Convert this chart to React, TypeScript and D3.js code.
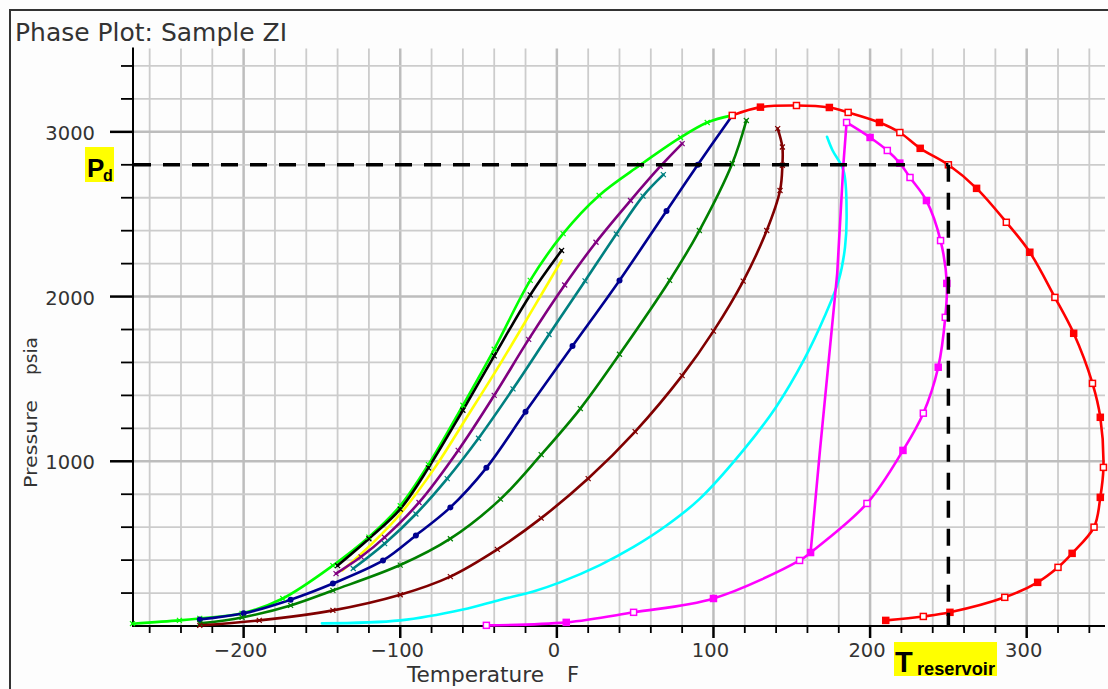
import React from 'react';
import * as d3 from 'd3';

const W = 1108;
const H = 689;

// Dew-point branch (temperature °F, pressure psia)
const dewT = [112, 130, 153, 174, 186, 206, 219, 232, 250, 268, 287, 302, 318, 330, 342, 347, 349, 347, 343, 329, 320, 307, 286, 251, 234, 210];
const dewP = [3100, 3150, 3160, 3148, 3118, 3057, 2996, 2900, 2800, 2657, 2451, 2269, 1995, 1777, 1473, 1267, 963, 781, 600, 441, 356, 265, 174, 83, 58, 34];

// Bubble-point branch
const bubbleT = [-271, -241, -228, -201, -175, -143, -120, -100, -82, -60, -40, -17, 4, 27, 53, 79, 96, 112];
const bubbleP = [14, 34, 46, 77, 167, 367, 540, 730, 980, 1340, 1680, 2098, 2382, 2614, 2797, 2966, 3057, 3100];

// Quality lines inside the envelope
const blackT = [-140, -120, -100, -82, -60, -40, -17, 3];
const blackP = [367, 530, 710, 960, 1310, 1640, 2010, 2280];

const yellowT = [-137, -118, -100, -78, -56, -35, -15, 3];
const yellowP = [337, 500, 680, 960, 1290, 1610, 1930, 2220];

const purpleT = [-141, -125, -110, -88, -63, -40, -18, 5, 25, 47, 66, 80];
const purpleP = [318, 420, 538, 750, 1066, 1400, 1740, 2070, 2330, 2583, 2790, 2929];

const tealT = [-130, -110, -90, -70, -50, -28, -5, 18, 38, 55, 68];
const tealP = [349, 500, 680, 895, 1140, 1440, 1770, 2095, 2380, 2610, 2740];

const navyT = [-228, -200, -170, -143, -111, -90, -68, -45, -20, 10, 40, 70, 90, 112];
const navyP = [40, 77, 160, 258, 398, 550, 720, 960, 1300, 1700, 2098, 2520, 2800, 3100];

const greenT = [-228, -201, -170, -143, -100, -68, -36, -10, 15, 40, 72, 91, 112, 121];
const greenP = [16, 52, 125, 216, 370, 530, 770, 1040, 1320, 1650, 2098, 2401, 2808, 3069];

const maroonT = [-228, -190, -143, -100, -68, -38, -10, 20, 50, 80, 100, 119, 134, 142.5, 144, 144, 141];
const maroonP = [4, 34, 95, 190, 300, 465, 655, 895, 1180, 1520, 1790, 2094, 2401, 2644, 2797, 2908, 3020];

const cyanT = [-150, -100, -60, -36, -15, 2, 27.5, 49, 70, 91, 119, 140, 158, 171, 180, 184, 185, 183, 176, 172.5];
const cyanP = [16, 34, 100, 160, 210, 265, 370, 480, 610, 770, 1066, 1330, 1620, 1880, 2100, 2300, 2504, 2766, 2888, 2970];

const magentaT = [-45, 6, 49, 100, 155, 162, 198, 221, 234, 243.5, 248, 249, 245, 236, 225.5, 219, 211, 200, 185];
const magentaP = [4, 22, 83, 167, 398, 446, 744, 1066, 1292, 1571, 1874, 2080, 2340, 2583, 2723, 2810, 2887, 2966, 3057];

const magentaLegT = [185, 183, 179, 168, 162];
const magentaLegP = [3057, 2808, 2140, 1066, 446];

// Axis labels
const xTickLabels = [-200, -100, 0, 100, 200, 300];
const yTickLabels = [1000, 2000, 3000];

// Reference conditions
const dewPressure = 2800;
const reservoirTemp = 250;

type Marker = 'square' | 'dot' | 'cross' | 'none';
interface Series {
  name: string;
  color: string;
  t: number[];
  p: number[];
  marker: Marker;
  smooth: boolean;
}

const series: Series[] = [
  { name: 'bubble', color: '#00ff00', t: bubbleT, p: bubbleP, marker: 'cross', smooth: true },
  { name: 'q-black', color: '#000000', t: blackT, p: blackP, marker: 'cross', smooth: true },
  { name: 'q-yellow', color: '#ffff00', t: yellowT, p: yellowP, marker: 'none', smooth: true },
  { name: 'q-purple', color: '#800080', t: purpleT, p: purpleP, marker: 'cross', smooth: true },
  { name: 'q-teal', color: '#008080', t: tealT, p: tealP, marker: 'cross', smooth: true },
  { name: 'q-navy', color: '#000090', t: navyT, p: navyP, marker: 'dot', smooth: true },
  { name: 'q-green', color: '#008000', t: greenT, p: greenP, marker: 'cross', smooth: true },
  { name: 'q-maroon', color: '#800000', t: maroonT, p: maroonP, marker: 'cross', smooth: true },
  { name: 'q-cyan', color: '#00ffff', t: cyanT, p: cyanP, marker: 'none', smooth: true },
  { name: 'q-magenta', color: '#ff00ff', t: magentaT, p: magentaP, marker: 'square', smooth: true },
  { name: 'q-magenta-leg', color: '#ff00ff', t: magentaLegT, p: magentaLegP, marker: 'none', smooth: false },
  { name: 'dew', color: '#ff0000', t: dewT, p: dewP, marker: 'square', smooth: true },
];

const labelFont = '"DejaVu Sans", "Liberation Sans", sans-serif';
const calloutFont = '"Liberation Sans", Arial, sans-serif';

export default function App() {
  const x = d3.scaleLinear().domain([-270, 350]).range([134, 1105]);
  const y = d3.scaleLinear().domain([0, 3500]).range([626, 49.5]);

  const [x0, x1] = x.range();
  const [y0, y1] = y.range();

  const xMinor = d3.range(-260, 351, 20);
  const yMinor = d3.range(200, 3401, 200);

  const pathFor = (s: Series) => {
    const pts = s.t.map((t, i) => [t, s.p[i]] as [number, number]);
    const gen = d3
      .line<[number, number]>()
      .x((d) => x(d[0]))
      .y((d) => y(d[1]))
      .curve(s.smooth ? d3.curveCatmullRom.alpha(0.5) : d3.curveLinear);
    return gen(pts) || '';
  };

  const markersFor = (s: Series) => {
    if (s.marker === 'none') return null;
    return s.t.map((t, i) => {
      const cx = x(t);
      const cy = y(s.p[i]);
      if (s.marker === 'square') {
        const hollow = i % 2 === 0;
        return (
          <rect
            key={i}
            x={cx - 3}
            y={cy - 3}
            width={6}
            height={6}
            fill={hollow ? '#fff' : s.color}
            stroke={s.color}
            strokeWidth={1.5}
          />
        );
      }
      if (s.marker === 'dot') {
        return <circle key={i} cx={cx} cy={cy} r={3} fill={s.color} />;
      }
      return (
        <path
          key={i}
          d={`M${cx - 2.5},${cy - 2.5}L${cx + 2.5},${cy + 2.5}M${cx - 2.5},${cy + 2.5}L${cx + 2.5},${cy - 2.5}`}
          stroke={s.color}
          strokeWidth={1.2}
        />
      );
    });
  };

  const fmt = (v: number) => (v < 0 ? `\u2212${Math.abs(v)}` : `${v}`);

  return (
    <svg
      width={W}
      height={H}
      viewBox={`0 0 ${W} ${H}`}
      style={{ position: 'absolute', left: 0, top: 0, display: 'block', background: '#fff' }}
    >
      <rect x={0} y={0} width={W} height={H} fill="#fdfdfd" />

      {/* panel frame */}
      <path d={`M10,${H}L10,10L${W},10`} fill="none" stroke="#333" strokeWidth={2} />

      {/* title */}
      <text x={15} y={41} fontFamily={labelFont} fontSize={25} fill="#333" textLength={272} lengthAdjust="spacingAndGlyphs">
        Phase Plot: Sample ZI
      </text>

      {/* grid */}
      <g>
        {xMinor.map((v) => (
          <line
            key={`gx${v}`}
            x1={x(v)}
            x2={x(v)}
            y1={y1 - 1}
            y2={y0}
            stroke={v % 100 === 0 ? '#bdbdbd' : '#cccccc'}
            strokeWidth={v % 100 === 0 ? 2.5 : 1.8}
          />
        ))}
        {yMinor.map((v) => (
          <line
            key={`gy${v}`}
            x1={x0}
            x2={x1}
            y1={y(v)}
            y2={y(v)}
            stroke={v % 1000 === 0 ? '#bdbdbd' : '#cccccc'}
            strokeWidth={v % 1000 === 0 ? 2.5 : 1.8}
          />
        ))}
      </g>

      {/* axes */}
      <line x1={x0 - 1} x2={x0 - 1} y1={y1 - 2} y2={y0 + 1} stroke="#000" strokeWidth={2} />
      <line x1={x0 - 1} x2={x1} y1={y0} y2={y0} stroke="#000" strokeWidth={2} />

      {yMinor.map((v) => (
        <line
          key={`ty${v}`}
          x1={v % 1000 === 0 ? x0 - 24 : x0 - 13}
          x2={x0 - 1}
          y1={y(v)}
          y2={y(v)}
          stroke="#000"
          strokeWidth={v % 1000 === 0 ? 2.5 : 1.8}
        />
      ))}
      {xMinor.map((v) => (
        <line
          key={`tx${v}`}
          x1={x(v)}
          x2={x(v)}
          y1={y0}
          y2={v % 100 === 0 ? y0 + 12 : y0 + 7}
          stroke="#000"
          strokeWidth={v % 100 === 0 ? 2.5 : 1.8}
        />
      ))}

      {yTickLabels.map((v) => (
        <text key={`ly${v}`} x={95} y={y(v) + 8} textAnchor="end" fontFamily={labelFont} fontSize={19.5} fill="#333">
          {fmt(v)}
        </text>
      ))}
      {xTickLabels.map((v) => (
        <text key={`lx${v}`} x={x(v) - 3} y={657} textAnchor="middle" fontFamily={labelFont} fontSize={19.5} fill="#333">
          {fmt(v)}
        </text>
      ))}

      {/* axis titles */}
      <text x={407} y={682} fontFamily={labelFont} fontSize={21} fill="#333" textLength={137} lengthAdjust="spacingAndGlyphs">
        Temperature
      </text>
      <text x={567} y={682} fontFamily={labelFont} fontSize={21} fill="#333">
        F
      </text>
      <g transform="translate(37,488) rotate(-90)">
        <text x={0} y={0} fontFamily={labelFont} fontSize={18} fill="#333" textLength={88} lengthAdjust="spacingAndGlyphs">
          Pressure
        </text>
        <text x={113} y={0} fontFamily={labelFont} fontSize={18} fill="#333" textLength={38} lengthAdjust="spacingAndGlyphs">
          psia
        </text>
      </g>

      {/* envelope and quality lines */}
      <g fill="none" strokeLinejoin="round" strokeLinecap="round">
        {series.map((s) => (
          <path key={s.name} d={pathFor(s)} stroke={s.color} strokeWidth={2.6} />
        ))}
      </g>
      <g>
        {series.map((s) => (
          <g key={`m-${s.name}`}>{markersFor(s)}</g>
        ))}
      </g>

      {/* dew pressure and reservoir temperature guides */}
      <line
        x1={x0}
        x2={x(reservoirTemp)}
        y1={y(dewPressure)}
        y2={y(dewPressure)}
        stroke="#000"
        strokeWidth={3.5}
        strokeDasharray="17 12"
      />
      <line
        x1={x(reservoirTemp)}
        x2={x(reservoirTemp)}
        y1={y(dewPressure)}
        y2={y0}
        stroke="#000"
        strokeWidth={3.5}
        strokeDasharray="17 11"
      />

      {/* callouts */}
      <rect x={85} y={147} width={29} height={35} fill="#ffff00" />
      <text x={87} y={177} fontFamily={calloutFont} fontWeight="bold" fontSize={26} fill="#000">
        P
      </text>
      <text x={103} y={181} fontFamily={calloutFont} fontWeight="bold" fontSize={16} fill="#000">
        d
      </text>

      <rect x={894} y={642} width={103} height={34} fill="#ffff00" />
      <text x={895} y={672} fontFamily={calloutFont} fontWeight="bold" fontSize={29} fill="#000">
        T
      </text>
      <text x={917} y={675} fontFamily={calloutFont} fontWeight="bold" fontSize={18} fill="#000" textLength={78} lengthAdjust="spacingAndGlyphs">
        reservoir
      </text>
    </svg>
  );
}
